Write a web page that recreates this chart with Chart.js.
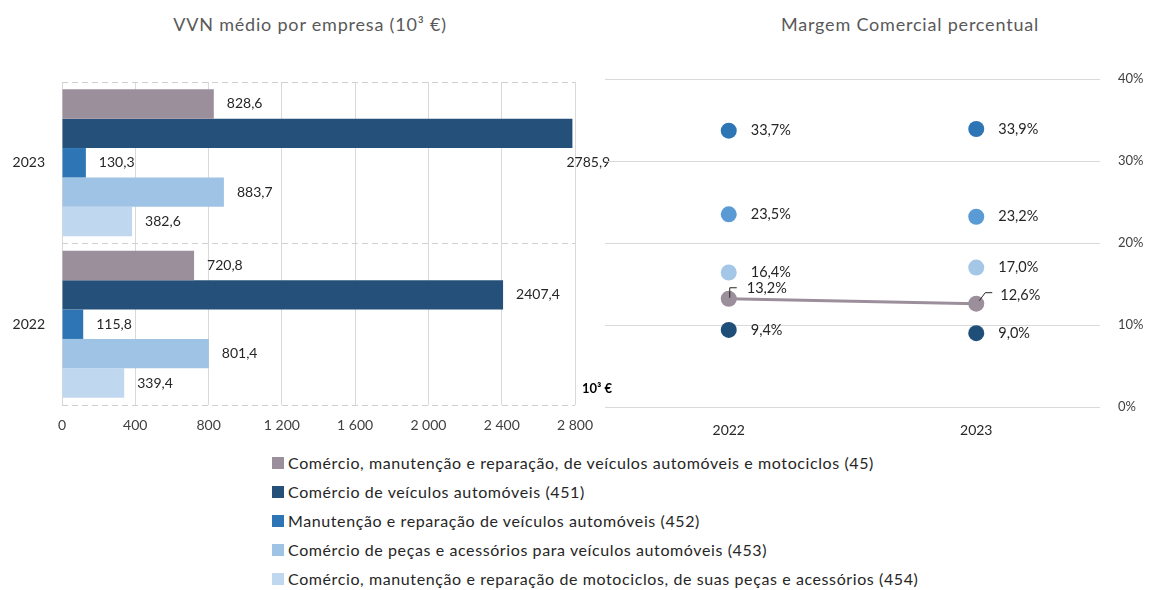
<!DOCTYPE html>
<html>
<head>
<meta charset="utf-8">
<script src="https://cdn.jsdelivr.net/npm/chart.js@4.4.0/dist/chart.umd.min.js"></script>
<style>
  body { margin: 0; width: 1150px; height: 590px; background: #fff; position: relative; overflow: hidden; font-family: Lato, "Open Sans", sans-serif; }
  .title { position: absolute; top: 13px; font-size: 18px; letter-spacing: 0.8px; color: #595959; text-align: center; }
  #vvnWrap { position: absolute; left: 0; top: 0; }
  #margemWrap { position: absolute; left: 590px; top: 0; }
  #unit { position: absolute; left: 582px; top: 380px; font-size: 13px; font-weight: bold; color: #000; }
  #legend { position: absolute; left: 272px; top: 448px; font-size: 16px; letter-spacing: 0.6px; color: #262626; }
  .item { height: 29px; display: flex; align-items: center; }
  .sw { width: 12px; height: 12px; margin-right: 4px; }
</style>
</head>
<body>
<div class="title" style="left:110px;width:400px">VVN médio por empresa (10³ €)</div>
<div class="title" style="left:710px;width:400px">Margem Comercial percentual</div>
<div id="vvnWrap"><canvas id="vvnChart" width="620" height="440"></canvas></div>
<div id="margemWrap"><canvas id="margemChart" width="560" height="440"></canvas></div>
<div id="unit">10³ €</div>
<div id="legend"></div>
<script>
// Series names (CAE)
const seriesNames = [
  "Comércio, manutenção e reparação, de veículos automóveis e motociclos (45)",
  "Comércio de veículos automóveis (451)",
  "Manutenção e reparação de veículos automóveis (452)",
  "Comércio de peças e acessórios para veículos automóveis (453)",
  "Comércio, manutenção e reparação de motociclos, de suas peças e acessórios (454)"
];

// VVN médio por empresa (10^3 €), top to bottom
const vvnYears = ["2023", "2022"];
const vvn45 = [828.6, 720.8];
const vvn451 = [2785.9, 2407.4];
const vvn452 = [130.3, 115.8];
const vvn453 = [883.7, 801.4];
const vvn454 = [382.6, 339.4];
const vvnTicks = ["0", "400", "800", "1 200", "1 600", "2 000", "2 400", "2 800"];

// Margem comercial (%)
const margemYears = ["2022", "2023"];
const margem45 = [13.2, 12.6];
const margem451 = [9.4, 9.0];
const margem452 = [33.7, 33.9];
const margem453 = [23.5, 23.2];
const margem454 = [16.4, 17.0];
const margemTicks = ["0%", "10%", "20%", "30%", "40%"];

const barColors = ["#9c8f9c", "#24507a", "#2e75b6", "#9fc3e4", "#c0d8ef"];
const dotColors = ["#9c8f9c", "#1f4e79", "#2e75b6", "#5b9bd5", "#a4c6e7"];
const FONT = "Lato, 'Open Sans', sans-serif";
const fmt = v => v.toFixed(1).replace(".", ",");

// legend
const legend = document.getElementById("legend");
seriesNames.forEach((name, i) => {
  legend.innerHTML += `<div class="item"><span class="sw" style="background:${barColors[i]}"></span>${name}</div>`;
});

// Value labels to the right of bars
const barLabels = {
  id: "barLabels",
  afterDatasetsDraw(chart) {
    const ctx = chart.ctx;
    ctx.save();
    ctx.font = "14px " + FONT;
    ctx.fillStyle = "#262626";
    ctx.textBaseline = "middle";
    chart.data.datasets.forEach((ds, i) => {
      chart.getDatasetMeta(i).data.forEach((bar, j) => {
        const txt = fmt(ds.data[j]);
        let x = bar.x + 13, y = bar.y;
        // no room on the right: put it under the bar end
        if (x + ctx.measureText(txt).width > chart.width) { x = bar.x - 6; y = bar.y + bar.height; }
        ctx.fillText(txt, x, y);
      });
    });
    ctx.restore();
  }
};

const vvnData = [vvn45, vvn451, vvn452, vvn453, vvn454];
new Chart(document.getElementById("vvnChart"), {
  type: "bar",
  data: {
    labels: vvnYears,
    datasets: vvnData.map((d, i) => ({
      label: seriesNames[i], data: d, backgroundColor: barColors[i],
      barPercentage: 1, categoryPercentage: 0.91
    }))
  },
  options: {
    indexAxis: "y",
    responsive: false,
    animation: false,
    layout: { padding: { top: 82, right: 45 } },
    plugins: { legend: { display: false }, tooltip: { enabled: false } },
    scales: {
      x: {
        min: 0, max: 2800,
        ticks: { stepSize: 400, padding: 12, color: "#404040", font: { size: 14, family: FONT },
          callback: (v, i) => vvnTicks[i] },
        grid: { color: "#d9d9d9", drawTicks: false },
        border: { display: false },
        afterFit: s => { s.height = 35; }
      },
      y: {
        ticks: { padding: 17, color: "#262626", font: { size: 14, family: FONT } },
        grid: { color: "#d0d0d0", drawTicks: false },
        border: { display: false, dash: [6, 4] },
        afterFit: s => { s.width = 62; }
      }
    }
  },
  plugins: [barLabels]
});

// leader line offsets for the (45) series labels
const leaderOffsets = [
  { pts: [[1, -1], [1, -11], [8, -11]], dx: 18, dy: -10 },
  { pts: [[3, -3], [9, -11], [16, -11]], dx: 24, dy: -8 }
];

const dotLabels = {
  id: "dotLabels",
  afterDatasetsDraw(chart) {
    const ctx = chart.ctx;
    ctx.save();
    ctx.font = "14.5px " + FONT;
    ctx.fillStyle = "#262626";
    ctx.textBaseline = "middle";
    chart.data.datasets.forEach((ds, i) => {
      chart.getDatasetMeta(i).data.forEach((pt, j) => {
        const txt = fmt(ds.data[j]) + "%";
        if (i === 0) {
          const lo = leaderOffsets[j];
          ctx.strokeStyle = "#262626";
          ctx.lineWidth = 1;
          ctx.beginPath();
          lo.pts.forEach((p, k) => k ? ctx.lineTo(pt.x + p[0], pt.y + p[1]) : ctx.moveTo(pt.x + p[0], pt.y + p[1]));
          ctx.stroke();
          ctx.fillText(txt, pt.x + lo.dx, pt.y + lo.dy);
        } else {
          ctx.fillText(txt, pt.x + 22, pt.y);
        }
      });
    });
    ctx.restore();
  }
};

const margemData = [margem45, margem451, margem452, margem453, margem454];
new Chart(document.getElementById("margemChart"), {
  type: "line",
  data: {
    labels: margemYears,
    datasets: margemData.map((d, i) => ({
      label: seriesNames[i], data: d,
      showLine: i === 0, borderColor: dotColors[i], borderWidth: 3,
      backgroundColor: dotColors[i], pointBackgroundColor: dotColors[i],
      pointRadius: 8, pointBorderWidth: 0
    }))
  },
  options: {
    responsive: false,
    animation: false,
    layout: { padding: { top: 79, left: 15 } },
    plugins: { legend: { display: false }, tooltip: { enabled: false } },
    scales: {
      x: {
        offset: true,
        ticks: { padding: 15, color: "#262626", font: { size: 14, family: FONT } },
        grid: { display: false, drawTicks: false },
        border: { display: false },
        afterFit: s => { s.height = 33; }
      },
      y: {
        position: "right",
        min: 0, max: 40,
        ticks: { stepSize: 10, padding: 18, color: "#404040", font: { size: 13, family: FONT },
          callback: (v, i) => margemTicks[i] },
        grid: { color: "#d9d9d9", drawTicks: false },
        border: { display: false },
        afterFit: s => { s.width = 50; }
      }
    }
  },
  plugins: [dotLabels]
});
</script>
</body>
</html>
